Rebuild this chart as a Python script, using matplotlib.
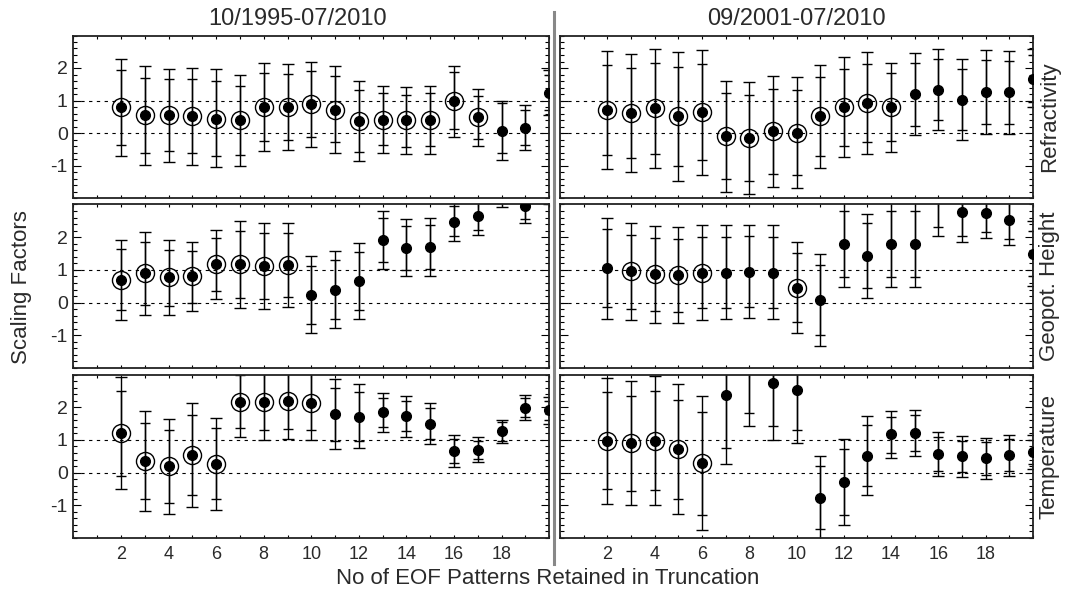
import matplotlib
matplotlib.use('Agg')
import matplotlib.pyplot as plt
from matplotlib.lines import Line2D
from matplotlib.ticker import FixedLocator, MultipleLocator

plt.rcParams['font.family'] = ['Liberation Sans', 'DejaVu Sans']
plt.rcParams['axes.unicode_minus'] = False

# number of EOF patterns retained
n_eof = list(range(2, 21))

# ---- Refractivity, 10/1995-07/2010 ----
refr_a_mid = [0.79, 0.55, 0.55, 0.52, 0.44, 0.39, 0.80, 0.80, 0.88, 0.72, 0.38, 0.41, 0.39, 0.41, 0.97, 0.49, 0.05, 0.16, 1.24]
refr_a_in_hi = [1.95, 1.70, 1.65, 1.67, 1.61, 1.46, 1.84, 1.82, 1.90, 1.75, 1.32, 1.22, 1.18, 1.22, 1.89, 1.14, 0.93, 0.71, 1.80]
refr_a_in_lo = [-0.37, -0.63, -0.55, -0.63, -0.71, -0.67, -0.24, -0.22, -0.13, -0.29, -0.58, -0.38, -0.42, -0.40, 0.13, -0.19, -0.63, -0.37, 0.70]
refr_a_out_hi = [2.29, 2.07, 1.98, 2.01, 1.96, 1.79, 2.15, 2.13, 2.20, 2.05, 1.61, 1.45, 1.41, 1.44, 2.06, 1.35, 0.98, 0.85, 1.95]
refr_a_out_lo = [-0.72, -0.99, -0.90, -0.99, -1.06, -1.00, -0.55, -0.53, -0.43, -0.60, -0.87, -0.63, -0.66, -0.64, -0.11, -0.39, -0.82, -0.52, 0.55]
refr_a_circled = [1, 1, 1, 1, 1, 1, 1, 1, 1, 1, 1, 1, 1, 1, 1, 1, 0, 0, 0]

# ---- Refractivity, 09/2001-07/2010 ----
refr_b_mid = [0.70, 0.62, 0.76, 0.51, 0.64, -0.10, -0.16, 0.05, 0.00, 0.51, 0.79, 0.92, 0.79, 1.21, 1.33, 1.03, 1.27, 1.25, 1.65]
refr_b_in_hi = [2.08, 2.00, 2.16, 2.03, 2.11, 1.22, 1.18, 1.36, 1.31, 1.73, 1.97, 2.12, 1.85, 2.15, 2.29, 1.98, 2.26, 2.23, 2.40]
refr_b_in_lo = [-0.69, -0.76, -0.66, -1.02, -0.82, -1.41, -1.48, -1.26, -1.30, -0.72, -0.40, -0.29, -0.26, 0.23, 0.39, 0.09, 0.28, 0.28, 0.95]
refr_b_out_hi = [2.51, 2.43, 2.59, 2.48, 2.55, 1.60, 1.57, 1.74, 1.71, 2.10, 2.34, 2.48, 2.15, 2.45, 2.59, 2.28, 2.56, 2.53, 2.60]
refr_b_out_lo = [-1.10, -1.20, -1.08, -1.49, -1.28, -1.80, -1.88, -1.65, -1.70, -1.09, -0.75, -0.66, -0.59, -0.06, 0.09, -0.21, -0.02, -0.02, 0.80]
refr_b_circled = [1, 1, 1, 1, 1, 1, 1, 1, 1, 1, 1, 1, 1, 0, 0, 0, 0, 0, 0]

# ---- Geopotential height, 10/1995-07/2010 ----
geop_a_mid = [0.70, 0.90, 0.77, 0.81, 1.18, 1.18, 1.11, 1.16, 0.24, 0.40, 0.66, 1.91, 1.67, 1.69, 2.47, 2.64, 3.30, 2.94, 3.50]
geop_a_in_hi = [1.63, 1.86, 1.62, 1.58, 1.98, 2.19, 2.12, 2.13, 1.13, 1.30, 1.55, 2.59, 2.35, 2.38, 2.94, 3.10, 3.60, 3.30, 3.90]
geop_a_in_lo = [-0.24, -0.06, -0.09, -0.01, 0.37, 0.15, 0.11, 0.17, -0.65, -0.49, -0.23, 1.23, 1.00, 1.03, 2.03, 2.21, 3.05, 2.56, 3.10]
geop_a_out_hi = [1.92, 2.16, 1.90, 1.85, 2.23, 2.50, 2.42, 2.43, 1.42, 1.58, 1.83, 2.81, 2.56, 2.58, 3.30, 3.35, 3.80, 3.50, 4.10]
geop_a_out_lo = [-0.53, -0.37, -0.37, -0.26, 0.11, -0.16, -0.19, -0.13, -0.93, -0.77, -0.51, 1.02, 0.80, 0.82, 1.89, 2.08, 2.93, 2.44, 3.02]
geop_a_circled = [1, 1, 1, 1, 1, 1, 1, 1, 0, 0, 0, 0, 0, 0, 0, 0, 0, 0, 0]

# ---- Geopotential height, 09/2001-07/2010 ----
geop_b_mid = [1.06, 0.96, 0.87, 0.85, 0.92, 0.92, 0.94, 0.92, 0.46, 0.08, 1.78, 1.43, 1.78, 1.78, 3.30, 2.76, 2.73, 2.52, 1.48]
geop_b_in_hi = [2.24, 2.08, 1.99, 1.96, 2.02, 2.02, 2.04, 2.02, 1.53, 1.15, 2.79, 2.42, 2.79, 2.79, 3.80, 3.30, 3.30, 3.10, 2.20]
geop_b_in_lo = [-0.12, -0.19, -0.27, -0.28, -0.18, -0.17, -0.13, -0.16, -0.60, -0.99, 0.78, 0.44, 0.78, 0.78, 2.32, 2.04, 2.16, 1.94, 0.80]
geop_b_out_hi = [2.60, 2.44, 2.34, 2.30, 2.36, 2.36, 2.38, 2.36, 1.86, 1.48, 3.10, 2.72, 3.10, 3.10, 4.00, 3.50, 3.50, 3.30, 2.50]
geop_b_out_lo = [-0.49, -0.53, -0.61, -0.61, -0.52, -0.51, -0.47, -0.49, -0.93, -1.32, 0.47, 0.13, 0.47, 0.47, 2.04, 1.84, 1.97, 1.77, 0.50]
geop_b_circled = [0, 1, 1, 1, 1, 0, 0, 0, 1, 0, 0, 0, 0, 0, 0, 0, 0, 0, 0]

# ---- Temperature, 10/1995-07/2010 ----
temp_a_mid = [1.20, 0.36, 0.19, 0.54, 0.27, 2.16, 2.16, 2.18, 2.14, 1.80, 1.71, 1.85, 1.72, 1.50, 0.65, 0.70, 1.27, 1.98, 1.90]
temp_a_in_hi = [2.50, 1.52, 1.30, 1.76, 1.35, 2.98, 3.05, 3.05, 3.05, 2.60, 2.48, 2.29, 2.20, 1.99, 1.04, 0.98, 1.55, 2.27, 2.20]
temp_a_in_lo = [-0.11, -0.81, -0.93, -0.67, -0.82, 1.35, 1.30, 1.32, 1.29, 0.98, 0.98, 1.40, 1.27, 1.03, 0.28, 0.41, 0.96, 1.69, 1.60]
temp_a_out_hi = [2.92, 1.88, 1.64, 2.12, 1.67, 3.20, 3.25, 3.25, 3.25, 2.85, 2.70, 2.44, 2.35, 2.14, 1.16, 1.08, 1.62, 2.37, 2.30]
temp_a_out_lo = [-0.51, -1.16, -1.27, -1.04, -1.14, 1.10, 1.01, 1.04, 1.01, 0.72, 0.76, 1.24, 1.10, 0.88, 0.16, 0.31, 0.89, 1.60, 1.50]
temp_a_circled = [1, 1, 1, 1, 1, 1, 1, 1, 1, 0, 0, 0, 0, 0, 0, 0, 0, 0, 0]

# ---- Temperature, 09/2001-07/2010 ----
temp_b_mid = [0.98, 0.90, 0.98, 0.71, 0.29, 2.37, 3.30, 2.73, 2.53, -0.77, -0.28, 0.52, 1.17, 1.22, 0.57, 0.50, 0.44, 0.53, 0.63]
temp_b_in_hi = [2.45, 2.35, 2.49, 2.23, 1.86, 3.20, 4.00, 3.40, 3.20, 0.21, 0.73, 1.45, 1.70, 1.76, 1.08, 0.98, 0.93, 1.02, 1.00]
temp_b_in_lo = [-0.50, -0.55, -0.52, -0.81, -1.29, 0.76, 1.83, 1.41, 1.30, -1.72, -1.29, -0.42, 0.61, 0.67, 0.06, 0.01, -0.06, 0.04, 0.25]
temp_b_out_hi = [2.90, 2.80, 2.95, 2.72, 2.33, 3.50, 4.30, 3.70, 3.50, 0.50, 1.04, 1.74, 1.88, 1.92, 1.23, 1.13, 1.07, 1.16, 1.15]
temp_b_out_lo = [-0.95, -0.99, -0.98, -1.27, -1.77, 0.26, 1.41, 1.01, 0.91, -2.10, -1.59, -0.70, 0.46, 0.50, -0.09, -0.13, -0.20, -0.11, 0.10]
temp_b_circled = [1, 1, 1, 1, 1, 0, 0, 0, 0, 0, 0, 0, 0, 0, 0, 0, 0, 0, 0]

period_titles = ['10/1995-07/2010', '09/2001-07/2010']
row_labels = ['Refractivity', 'Geopot. Height', 'Temperature']
y_tick_labels = ['-1', '0', '1', '2']

panels = [
    [(refr_a_mid, refr_a_in_lo, refr_a_in_hi, refr_a_out_lo, refr_a_out_hi, refr_a_circled),
     (refr_b_mid, refr_b_in_lo, refr_b_in_hi, refr_b_out_lo, refr_b_out_hi, refr_b_circled)],
    [(geop_a_mid, geop_a_in_lo, geop_a_in_hi, geop_a_out_lo, geop_a_out_hi, geop_a_circled),
     (geop_b_mid, geop_b_in_lo, geop_b_in_hi, geop_b_out_lo, geop_b_out_hi, geop_b_circled)],
    [(temp_a_mid, temp_a_in_lo, temp_a_in_hi, temp_a_out_lo, temp_a_out_hi, temp_a_circled),
     (temp_b_mid, temp_b_in_lo, temp_b_in_hi, temp_b_out_lo, temp_b_out_hi, temp_b_circled)],
]

W, H = 1065, 597
fig = plt.figure(figsize=(W / 100, H / 100), dpi=100)

col_x = [(73.3, 549.3), (560.0, 1033.0)]
row_y = [(35.5, 198.0), (204.5, 368.0), (374.5, 538.0)]
text_col = '#2a2a2a'

for r in range(3):
    for c in range(2):
        x0, x1 = col_x[c]
        y0, y1 = row_y[r]
        ax = fig.add_axes([x0 / W, 1 - y1 / H, (x1 - x0) / W, (y1 - y0) / H])
        mid, ilo, ihi, olo, ohi, circ = panels[r][c]
        ax.set_xlim(0, 20)
        ax.set_ylim(-2, 3)
        for yv in (0, 1):
            ax.axhline(yv, color='black', lw=0.8, ls=(0, (3, 4)), zorder=0)
        ax.errorbar(n_eof, mid,
                    yerr=[[m - l for m, l in zip(mid, olo)], [h - m for m, h in zip(mid, ohi)]],
                    fmt='none', ecolor='black', elinewidth=1.0, capsize=4.2, capthick=1.0, zorder=2)
        ax.errorbar(n_eof, mid,
                    yerr=[[m - l for m, l in zip(mid, ilo)], [h - m for m, h in zip(mid, ihi)]],
                    fmt='none', ecolor='black', elinewidth=1.0, capsize=3.8, capthick=1.0, zorder=2)
        ax.plot(n_eof, mid, 'o', color='black', ms=7, zorder=3)
        cx = [x for x, f in zip(n_eof, circ) if f]
        cy = [y for y, f in zip(mid, circ) if f]
        ax.plot(cx, cy, 'o', mfc='none', mec='black', mew=1.0, ms=13, zorder=3)

        ax.xaxis.set_major_locator(FixedLocator(list(range(0, 21))))
        ax.xaxis.set_minor_locator(FixedLocator([5, 10, 15]))
        if r == 2:
            ax.set_xticklabels(['' if (v < 2 or v > 18 or v % 2) else str(v) for v in range(0, 21)],
                               fontsize=13, color=text_col)
        else:
            ax.set_xticklabels([])
        ax.yaxis.set_major_locator(FixedLocator([-1, 0, 1, 2]))
        ax.yaxis.set_minor_locator(MultipleLocator(0.2))
        if c == 0:
            ax.set_yticklabels(y_tick_labels, fontsize=14, color=text_col)
        else:
            ax.set_yticklabels([])
        ax.tick_params(axis='x', which='major', direction='in', top=True, bottom=True,
                       length=2.5, width=0.8, pad=6)
        ax.tick_params(axis='x', which='minor', direction='in', top=True, bottom=True,
                       length=5, width=0.8)
        ax.tick_params(axis='y', which='major', direction='in', left=True, right=True,
                       length=6, width=0.8, pad=4)
        ax.tick_params(axis='y', which='minor', direction='in', left=True, right=True,
                       length=3, width=0.8)
        for s in ax.spines.values():
            s.set_linewidth(1.3)
            s.set_color('#222222')
        if c == 1:
            ax.text(1.012, 0.5, row_labels[r], transform=ax.transAxes, rotation=90,
                    ha='left', va='center', fontsize=16, color=text_col)

# column titles
fig.text(298 / W, 1 - 19 / H, period_titles[0], ha='center', va='center', fontsize=17, color=text_col)
fig.text(796 / W, 1 - 19 / H, period_titles[1], ha='center', va='center', fontsize=17, color=text_col)
# shared axis labels
fig.text(548 / W, 1 - 579 / H, 'No of EOF Patterns Retained in Truncation', ha='center', va='center',
         fontsize=16, color=text_col)
fig.text(22 / W, 1 - 287 / H, 'Scaling Factors', ha='center', va='center', rotation=90,
         fontsize=16, color=text_col)
# vertical separator between periods
fig.add_artist(Line2D([554 / W, 554 / W], [1 - 12 / H, 1 - 564 / H], color='#888888', lw=2.2))

fig.savefig('out.png', dpi=100)
